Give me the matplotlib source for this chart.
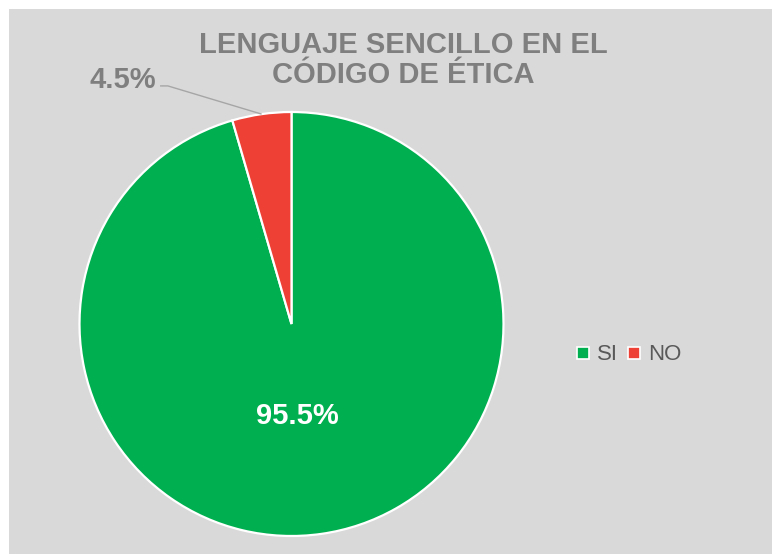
import matplotlib
matplotlib.use("Agg")
import matplotlib.pyplot as plt
import numpy as np
from matplotlib.patches import Rectangle
from matplotlib.lines import Line2D

plt.rcParams['font.family'] = ['Liberation Sans', 'DejaVu Sans']

# data
categories = ['SI', 'NO']
values = [95.5, 4.5]
colors = ['#00B050', '#EE4035']
title = 'LENGUAJE SENCILLO EN EL\nCÓDIGO DE ÉTICA'

W, H = 772, 554
fig = plt.figure(figsize=(W / 100, H / 100), dpi=100)
fig.patch.set_facecolor('white')

# gray chart area
bg = Rectangle((9 / W, 0), 1, 1 - 9 / H, transform=fig.transFigure,
               facecolor='#D9D9D9', edgecolor='none', zorder=-10)
fig.add_artist(bg)

# pie axes: center (291.5, 324), radius 212 px
cx, cy, r = 291.5, 324, 212
ax = fig.add_axes([(cx - r) / W, (H - cy - r) / H, 2 * r / W, 2 * r / H])
ax.set_zorder(1)

wedges, _ = ax.pie(values, colors=colors, startangle=90, counterclock=False,
                   radius=1, wedgeprops=dict(edgecolor='white', linewidth=1.6))
ax.set_xlim(-1, 1)
ax.set_ylim(-1, 1)
ax.set_aspect('equal')
ax.axis('off')

# labels
gray = '#7F7F7F'
for w, v in zip(wedges, values):
    mid = np.deg2rad((w.theta1 + w.theta2) / 2)
    if v > 50:
        ax.text(0.44 * np.cos(mid) - 0.035, 0.44 * np.sin(mid), f'{v:.1f}%',
                ha='center', va='center', color='white', fontsize=21, fontweight='bold')
    else:
        x0, y0 = np.cos(mid), np.sin(mid)
        ax.plot([x0, -0.583, -0.620], [y0, 1.123, 1.123], color='#A6A6A6', lw=1,
                clip_on=False, solid_capstyle='butt')
        ax.text(-0.64, 1.113, f'{v:.1f}%', ha='right', va='baseline',
                color=gray, fontsize=21, fontweight='bold')

fig.text(403 / W, 1 - 31 / H, title, ha='center', va='top', color=gray,
         fontsize=21, fontweight='bold', linespacing=1.1)

handles = [Line2D([], [], marker='s', ls='none', markersize=9, markerfacecolor=c,
                  markeredgecolor='white', markeredgewidth=1.2) for c in colors]
fig.legend(handles, categories, loc='center left', bbox_to_anchor=(564 / W, 1 - 355 / H),
           ncol=2, frameon=False, fontsize=16, labelcolor='#595959',
           handlelength=0.7, handletextpad=0.3, columnspacing=0.35, borderpad=0)

fig.savefig('out.png', dpi=100)
